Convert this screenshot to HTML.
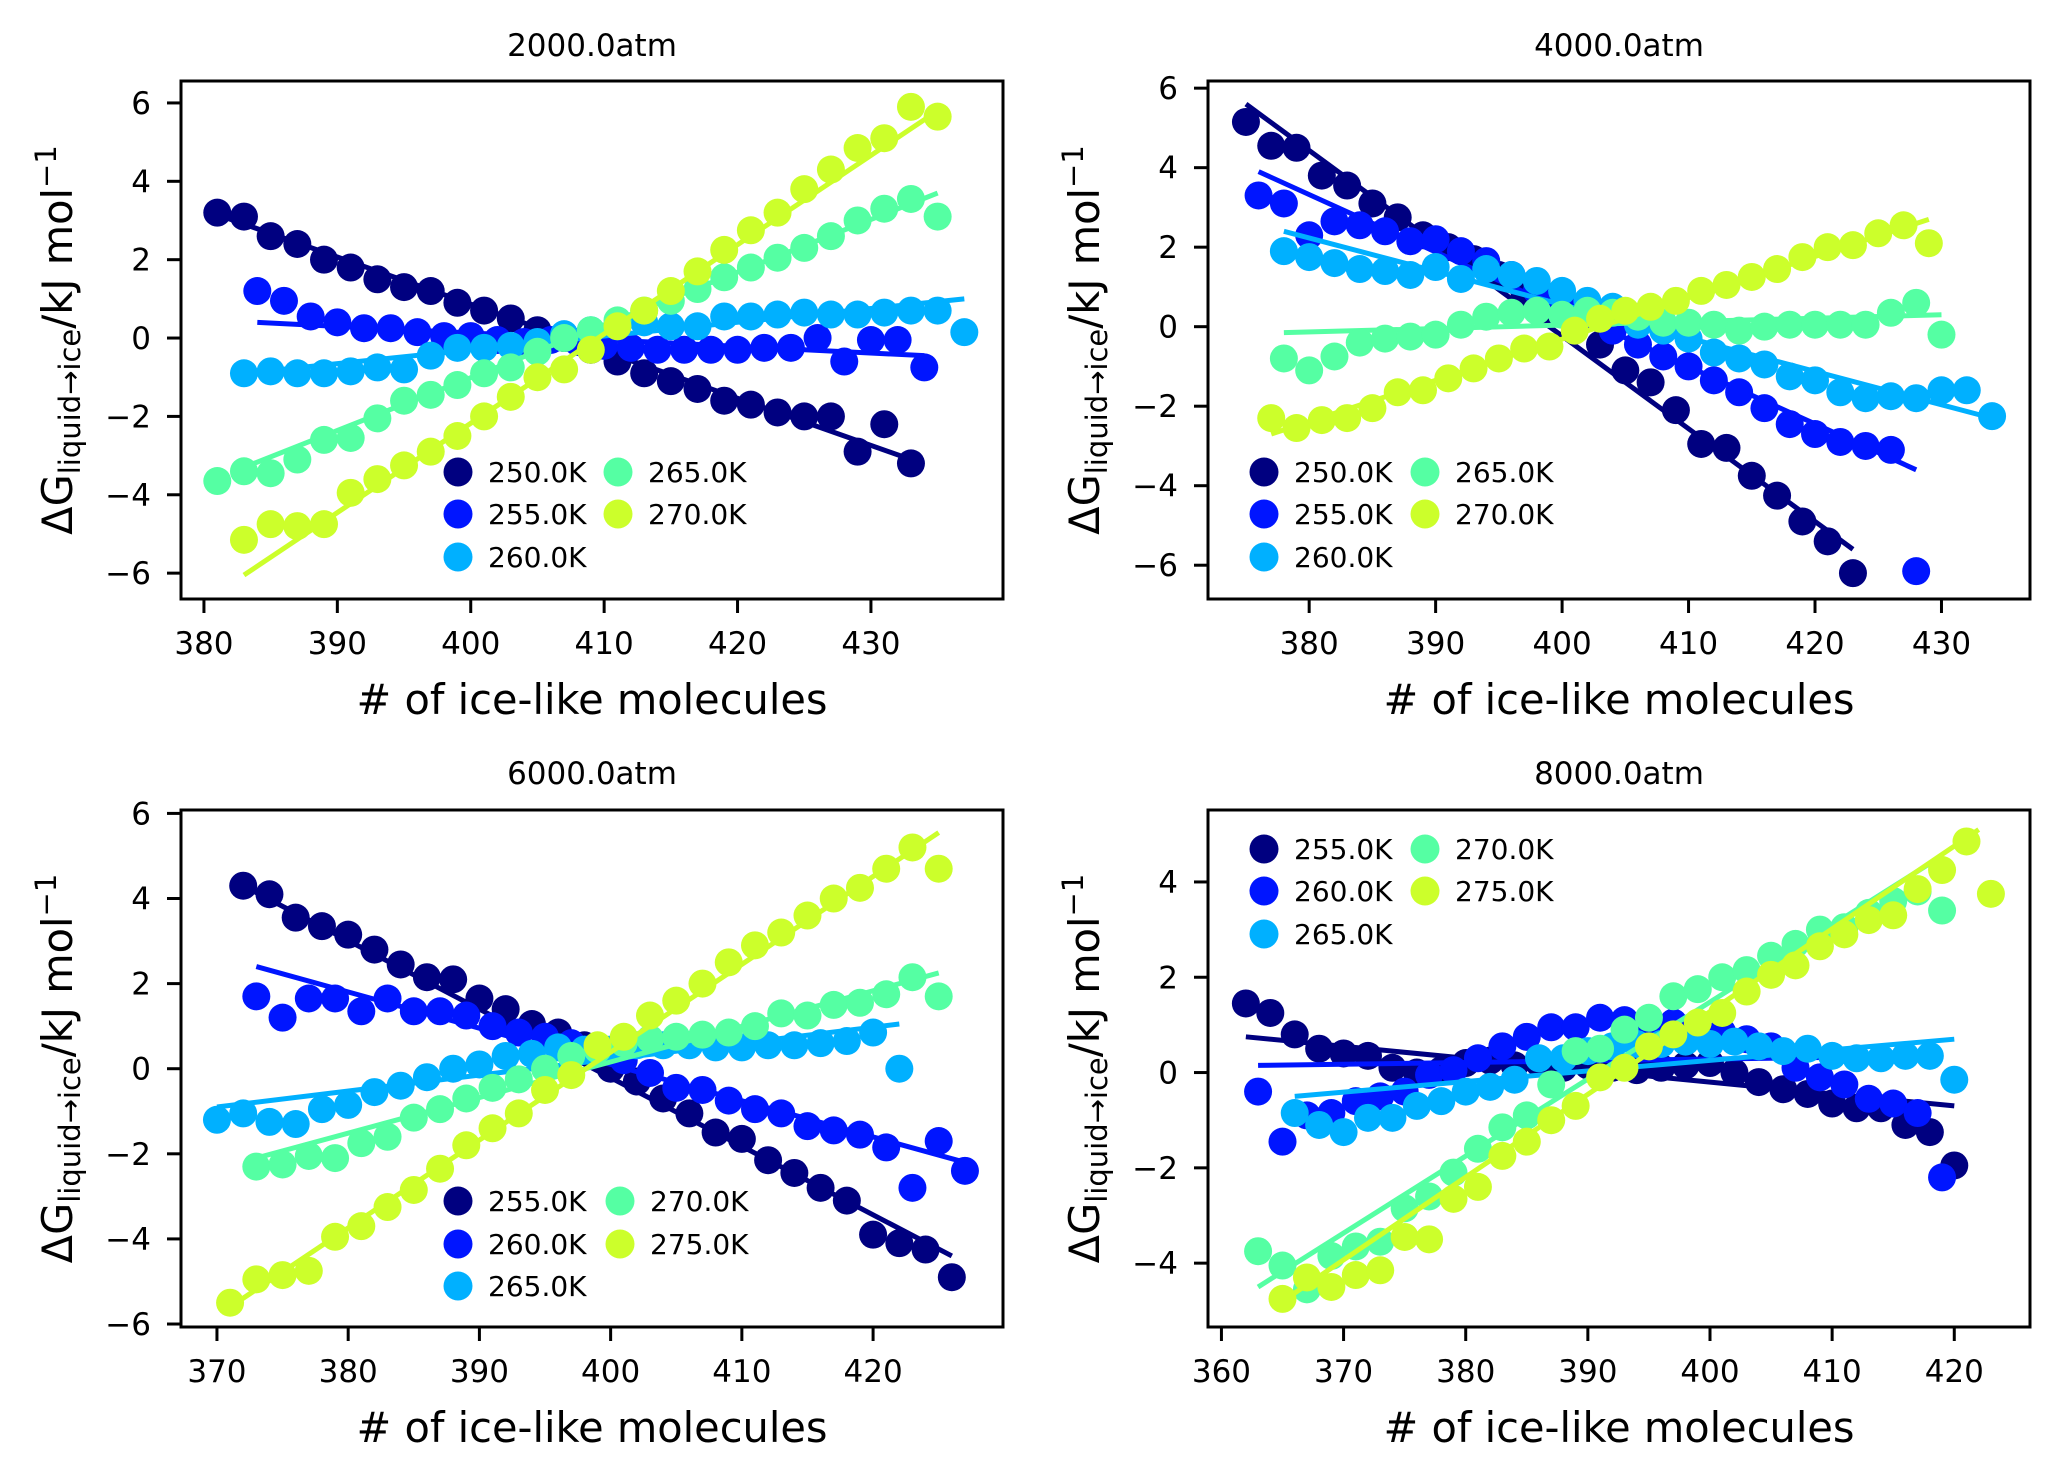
<!DOCTYPE html>
<html><head><meta charset="utf-8"><style>
html,body{margin:0;padding:0;background:#fff;}
svg{display:block;font-family:"DejaVu Sans","Liberation Sans",sans-serif;}
</style></head><body>
<svg id="fig" width="2055" height="1475" viewBox="0 0 2055 1475" xmlns="http://www.w3.org/2000/svg"></svg>
<script>
const colors = ['#000080','#0015ff','#00b0ff','#55ffa3','#ccff2b'];
// Panel 1 - 2000 atm
const p1Title = '2000.0atm';
const p1Labels = ['250.0K','255.0K','260.0K','265.0K','270.0K'];
const p1Start = [381,384,383,381,383];
const p1S0 = [3.2,3.1,2.6,2.4,2.0,1.8,1.5,1.3,1.2,0.9,0.7,0.5,0.2,0.0,-0.3,-0.6,-0.9,-1.1,-1.3,-1.6,-1.7,-1.9,-2.0,-2.0,-2.9,-2.2,-3.2];
const p1S1 = [1.2,0.95,0.55,0.4,0.25,0.25,0.15,0.05,0.05,-0.05,-0.1,-0.05,-0.1,-0.2,-0.25,-0.3,-0.3,-0.3,-0.3,-0.25,-0.25,0.0,-0.6,-0.05,-0.05,-0.75];
const p1S2 = [-0.9,-0.85,-0.9,-0.9,-0.85,-0.75,-0.8,-0.45,-0.25,-0.25,-0.2,-0.1,0.1,0.2,0.3,0.4,0.3,0.3,0.55,0.55,0.6,0.65,0.6,0.6,0.65,0.7,0.7,0.15];
const p1S3 = [-3.65,-3.4,-3.45,-3.1,-2.6,-2.55,-2.05,-1.6,-1.45,-1.2,-0.9,-0.75,-0.35,0.0,0.2,0.45,0.7,0.95,1.25,1.55,1.8,2.05,2.3,2.6,3.0,3.3,3.55,3.1];
const p1S4 = [-5.15,-4.75,-4.8,-4.75,-3.95,-3.6,-3.25,-2.9,-2.5,-2.0,-1.5,-1.0,-0.8,-0.3,0.3,0.7,1.2,1.7,2.25,2.75,3.2,3.8,4.3,4.85,5.1,5.9,5.65];
const p1FitX0 = [381,384,383,383,383], p1FitY0 = [3.15,0.4,-0.9,-3.3,-6.05];
const p1FitX1 = [433,434,437,435,435], p1FitY1 = [-3.1,-0.45,1.0,3.7,5.8];
// Panel 2 - 4000 atm
const p2Title = '4000.0atm';
const p2Labels = ['250.0K','255.0K','260.0K','265.0K','270.0K'];
const p2Start = [375,376,378,378,377];
const p2S0 = [5.15,4.55,4.5,3.8,3.55,3.1,2.75,2.3,2.0,1.7,1.3,0.9,0.4,0.05,-0.45,-1.1,-1.4,-2.1,-2.95,-3.05,-3.75,-4.25,-4.9,-5.4,-6.2];
const p2S1 = [3.3,3.1,2.3,2.65,2.55,2.4,2.15,2.2,1.9,1.65,1.3,0.9,0.6,0.3,-0.1,-0.45,-0.75,-1.0,-1.35,-1.65,-2.05,-2.45,-2.7,-2.9,-3.0,-3.1,-6.15];
const p2S2 = [1.9,1.75,1.6,1.45,1.4,1.3,1.5,1.2,1.45,1.3,1.15,0.9,0.65,0.5,0.05,-0.1,-0.3,-0.65,-0.8,-0.95,-1.25,-1.35,-1.65,-1.8,-1.75,-1.8,-1.6,-1.6,-2.25];
const p2S3 = [-0.8,-1.1,-0.75,-0.4,-0.3,-0.25,-0.2,0.05,0.25,0.35,0.4,0.3,0.4,0.35,0.25,0.1,0.1,0.05,-0.1,0.0,0.05,0.05,0.05,0.05,0.35,0.6,-0.2];
const p2S4 = [-2.3,-2.55,-2.35,-2.3,-2.05,-1.65,-1.6,-1.3,-1.05,-0.8,-0.55,-0.5,-0.1,0.2,0.4,0.5,0.65,0.9,1.05,1.25,1.45,1.75,2.0,2.05,2.35,2.55,2.1];
const p2FitX0 = [375,376,378,378,377], p2FitY0 = [5.6,3.9,2.4,-0.15,-2.7];
const p2FitX1 = [423,428,434,430,429], p2FitY1 = [-5.6,-3.6,-2.3,0.3,2.7];
// Panel 3 - 6000 atm
const p3Title = '6000.0atm';
const p3Labels = ['255.0K','260.0K','265.0K','270.0K','275.0K'];
const p3Start = [372,373,370,373,371];
const p3S0 = [4.3,4.1,3.55,3.35,3.15,2.8,2.45,2.15,2.1,1.65,1.4,1.05,0.85,0.55,0.0,-0.3,-0.7,-1.05,-1.5,-1.65,-2.15,-2.45,-2.8,-3.1,-3.9,-4.1,-4.25,-4.9];
const p3S1 = [1.7,1.2,1.65,1.65,1.35,1.65,1.35,1.35,1.25,1.0,0.85,0.75,0.6,0.4,0.2,-0.1,-0.45,-0.5,-0.75,-0.95,-1.05,-1.35,-1.45,-1.55,-1.85,-2.8,-1.7,-2.4];
const p3S2 = [-1.2,-1.05,-1.25,-1.3,-0.95,-0.85,-0.55,-0.4,-0.2,0.0,0.1,0.3,0.35,0.5,0.45,0.45,0.55,0.55,0.55,0.5,0.5,0.55,0.55,0.6,0.65,0.85,0.0];
const p3S3 = [-2.3,-2.25,-2.05,-2.1,-1.75,-1.6,-1.15,-0.95,-0.7,-0.45,-0.25,0.0,0.3,0.45,0.6,0.7,0.75,0.8,0.85,1.0,1.3,1.25,1.5,1.55,1.75,2.15,1.7];
const p3S4 = [-5.5,-4.95,-4.85,-4.75,-3.95,-3.7,-3.25,-2.85,-2.35,-1.8,-1.4,-1.05,-0.5,-0.15,0.55,0.75,1.25,1.6,2.0,2.5,2.9,3.2,3.6,4.0,4.25,4.7,5.2,4.7];
const p3FitX0 = [372,373,370,373,371], p3FitY0 = [4.3,2.4,-0.9,-2.1,-5.6];
const p3FitX1 = [426,427,422,425,425], p3FitY1 = [-4.4,-2.2,1.05,2.25,5.55];
// Panel 4 - 8000 atm
const p4Title = '8000.0atm';
const p4Labels = ['255.0K','260.0K','265.0K','270.0K','275.0K'];
const p4Start = [362,363,366,363,365];
const p4S0 = [1.45,1.25,0.8,0.5,0.4,0.35,0.1,0.0,0.05,0.2,0.25,0.15,0.2,0.1,0.15,0.1,0.05,0.1,0.15,0.2,0.0,-0.2,-0.35,-0.45,-0.65,-0.75,-0.75,-1.1,-1.25,-1.95];
const p4S1 = [-0.4,-1.45,-0.9,-0.85,-0.6,-0.5,-0.4,-0.05,0.05,0.3,0.55,0.75,0.95,0.95,1.15,1.1,0.95,1.05,0.8,0.85,0.7,0.55,0.1,-0.1,-0.25,-0.55,-0.65,-0.85,-2.2];
const p4S2 = [-0.85,-1.1,-1.25,-0.95,-0.95,-0.7,-0.6,-0.4,-0.3,-0.15,0.3,0.3,0.45,0.55,0.6,0.6,0.65,0.6,0.65,0.55,0.45,0.5,0.35,0.3,0.3,0.35,0.35,-0.15];
const p4S3 = [-3.75,-4.05,-4.55,-3.85,-3.65,-3.55,-2.85,-2.6,-2.1,-1.6,-1.15,-0.9,-0.25,0.45,0.5,0.9,1.15,1.6,1.75,2.0,2.15,2.45,2.7,3.0,3.05,3.35,3.6,3.8,3.4];
const p4S4 = [-4.75,-4.3,-4.5,-4.25,-4.15,-3.45,-3.5,-2.65,-2.4,-1.75,-1.45,-1.0,-0.7,-0.1,0.1,0.55,0.8,1.05,1.25,1.7,2.05,2.25,2.65,2.9,3.2,3.3,3.85,4.25,4.85,3.75];
const p4FitX0 = [362,363,366,363,365], p4FitY0 = [0.75,0.15,-0.5,-4.5,-4.8];
const p4FitX1 = [420,419,420,419,422], p4FitY1 = [-0.7,0.35,0.7,4.55,5.1];
const xTicks12 = [380,390,400,410,420,430];
const xTicks3 = [370,380,390,400,410,420];
const xTicks4 = [360,370,380,390,400,410,420];
const yTicks123 = [-6,-4,-2,0,2,4,6];
const yTicks4 = [-4,-2,0,2,4];

const NS='http://www.w3.org/2000/svg';
const svg=document.getElementById('fig');
function mk(tag,attrs,parent){const e=document.createElementNS(NS,tag);for(const k in attrs)e.setAttribute(k,attrs[k]);(parent||svg).appendChild(e);return e;}
function fmt(v){return v<0?'\u2212'+Math.abs(v):String(v);}

const panels=[
 {id:'p1',title:p1Title,labels:p1Labels,start:p1Start,series:[p1S0,p1S1,p1S2,p1S3,p1S4],fx0:p1FitX0,fy0:p1FitY0,fx1:p1FitX1,fy1:p1FitY1,
  box:[181,81,1003,599],xd:[378.28,439.9],yd:[-6.66,6.56],xt:xTicks12,yt:yTicks123,leg:[458,618,472,514,557],titleY:56,ylx:58},
 {id:'p2',title:p2Title,labels:p2Labels,start:p2Start,series:[p2S0,p2S1,p2S2,p2S3,p2S4],fx0:p2FitX0,fy0:p2FitY0,fx1:p2FitX1,fy1:p2FitY1,
  box:[1208,81,2030,599],xd:[372.0,437.0],yd:[-6.85,6.18],xt:xTicks12,yt:yTicks123,leg:[1264,1425,472,514,557],titleY:56,ylx:1085},
 {id:'p3',title:p3Title,labels:p3Labels,start:p3Start,series:[p3S0,p3S1,p3S2,p3S3,p3S4],fx0:p3FitX0,fy0:p3FitY0,fx1:p3FitX1,fy1:p3FitY1,
  box:[181,810,1003,1327],xd:[367.26,429.9],yd:[-6.07,6.08],xt:xTicks3,yt:yTicks123,leg:[458,620,1201,1244,1286],titleY:784,ylx:58},
 {id:'p4',title:p4Title,labels:p4Labels,start:p4Start,series:[p4S0,p4S1,p4S2,p4S3,p4S4],fx0:p4FitX0,fy0:p4FitY0,fx1:p4FitX1,fy1:p4FitY1,
  box:[1208,810,2030,1327],xd:[358.9,426.2],yd:[-5.34,5.51],xt:xTicks4,yt:yTicks4,leg:[1264,1425,849,891,934],titleY:784,ylx:1085}
];

panels.forEach(p=>{
  const [L,T,R,B]=p.box;
  const g=mk('g',{});
  
  
  const X=v=>L+(v-p.xd[0])/(p.xd[1]-p.xd[0])*(R-L);
  const Y=v=>B-(v-p.yd[0])/(p.yd[1]-p.yd[0])*(B-T);
  const cp=mk('clipPath',{id:'clip-'+p.id},g);
  mk('rect',{x:L,y:T,width:R-L,height:B-T},cp);
  const plot=mk('g',{'clip-path':'url(#clip-'+p.id+')'},g);
  p.series.forEach((ys,si)=>{
    const sg=mk('g',{},plot);
    
    
    const ln=mk('line',{x1:X(p.fx0[si]),y1:Y(p.fy0[si]),x2:X(p.fx1[si]),y2:Y(p.fy1[si]),stroke:colors[si],'stroke-width':5},sg);
    
    
    ys.forEach((v,i)=>{
      const c=mk('circle',{cx:X(p.start[si]+2*i),cy:Y(v),r:14,fill:colors[si]},sg);
      
      
    });
  });
  const fr=mk('rect',{x:L,y:T,width:R-L,height:B-T,fill:'none',stroke:'#000','stroke-width':3},g);
  
  
  p.xt.forEach(t=>{
    const x=X(t);
    mk('line',{x1:x,y1:B,x2:x,y2:B+14,stroke:'#000','stroke-width':3},g);
    const tx=mk('text',{x:x,y:B+55,'font-size':31,'text-anchor':'middle'},g);
    tx.textContent=fmt(t);
    
    
  });
  p.yt.forEach(t=>{
    const y=Y(t);
    mk('line',{x1:L,y1:y,x2:L-14,y2:y,stroke:'#000','stroke-width':3},g);
    const tx=mk('text',{x:L-30,y:y+11,'font-size':31,'text-anchor':'end'},g);
    tx.textContent=fmt(t);
    
    
  });
  const ti=mk('text',{x:(L+R)/2,y:p.titleY,'font-size':31,'text-anchor':'middle'},g);
  ti.textContent=p.title;
  
  
  const xl=mk('text',{x:(L+R)/2,y:B+115,'font-size':41.5,'text-anchor':'middle'},g);
  xl.textContent='# of ice-like molecules';
  
  
  const cy=(T+B)/2;
  const yl=mk('text',{x:p.ylx+14,y:cy,'font-size':41.5,'text-anchor':'middle',transform:'rotate(-90 '+(p.ylx+14)+' '+cy+')'},g);
  
  
  yl.innerHTML='<tspan>\u0394G</tspan><tspan font-size="29" dy="8">liquid\u2192ice</tspan><tspan dy="-8">/kJ mol</tspan><tspan font-size="29" dy="-16">\u22121</tspan>';
  const lg=mk('g',{},g);
  
  
  const [c1,c2,r1,r2,r3]=p.leg;
  const pos=[[c1,r1],[c1,r2],[c1,r3],[c2,r1],[c2,r2]];
  p.labels.forEach((lab,i)=>{
    const [mx,my]=pos[i];
    const e=mk('g',{},lg);
    
    
    mk('circle',{cx:mx,cy:my,r:14.5,fill:colors[i]},e);
    const t=mk('text',{x:mx+30,y:my+10,'font-size':28},e);
    t.textContent=lab;
  });
});
</script>
</body></html>
